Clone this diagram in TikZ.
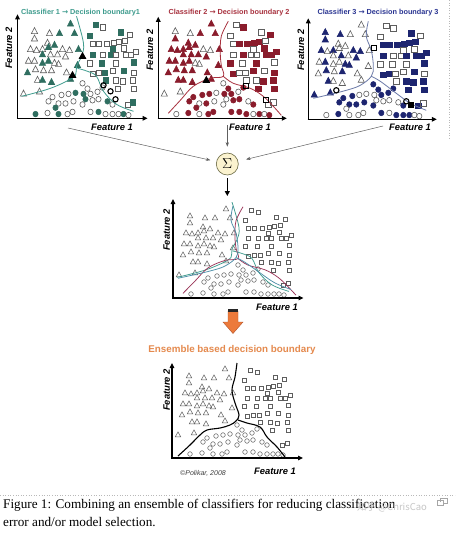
\documentclass[tikz,border=0pt]{standalone}
\usepackage{fontspec}
\setmainfont{Liberation Serif}
\newfontfamily\hv{Liberation Sans}
\newfontfamily\dv{DejaVu Sans}
\newfontfamily\cjk{Noto Sans CJK SC}
\usetikzlibrary{arrows.meta}
\definecolor{tealA}{HTML}{3F9C8E}
\definecolor{tealF}{HTML}{2F6E60}
\definecolor{redA}{HTML}{A8323F}
\definecolor{redF}{HTML}{8A1C2C}
\definecolor{blueA}{HTML}{2A3592}
\definecolor{blueF}{HTML}{1D2570}
\definecolor{blueL}{HTML}{6C7AA8}
\definecolor{mixB}{HTML}{4F8FA8}
\definecolor{mixR}{HTML}{9A3458}
\definecolor{ptgray}{HTML}{5E5E5E}
\definecolor{ensO}{HTML}{E58A4E}
\definecolor{sigF}{HTML}{FBF3CF}
\definecolor{sigD}{HTML}{6B6A45}
\definecolor{arrO}{HTML}{EC7A3B}
\definecolor{arrD}{HTML}{B4532A}
\def\TriList{53/89,17/82,32/80,42/80,57/80,17/75,30/71,13/65,19/64,25/65,31/67,37/69,45/65,52/64,61/65,25/60,33/60,40/60,48/58,11/54,17/54,25/52,31/54,37/52,41/51,60/50,10/43,18/46,26/45,34/45,49/43,20/36,25/36,34/34,6/23,22/25,53/37}
\def\SqList{78/88,85/86,103/81,112/79,72/78,75/70,81/70,89/70,96/71,101/72,107/73,95/65,106/66,75/60,85/60,93/60,98/60,108/60,113/60,118/63,75/42,81/43,87/43,95/45,106/45,116/43,88/36,98/36,105/35,115/36,100/28,116/28,110/13,115/15,72/52,116/53,98/52,84/52}
\def\CircList{65/33,70/28,66/23,73/23,80/25,85/29,68/18,75/17,81/18,90/16,95/13,65/13,73/6,81/6,88/4,95/4,101/4,106/4,111/3,51/23,58/24,35/20,41/14,31/16,38/10,48/14,56/16,30/5,41/4,50/4,55/6,18/4,44/22}
\def\ms{1}
\newcommand\mtri[3]{\path[#3] (#1,#2) ++(0,3.1*\ms) -- ++(-2.7*\ms,-4.9*\ms) -- ++(5.4*\ms,0) -- cycle;}
\newcommand\msq[3]{\path[#3] (#1,#2) ++(-2.2*\ms,-2.2*\ms) rectangle ++(4.4*\ms,4.4*\ms);}
\newcommand\mcirc[3]{\path[#3] (#1,#2) circle[radius=2.3*\ms];}
% #1 fill colour, #2 seed, #3 threshold (0..11)
\newcommand\pts[3]{%
  \foreach \x/\y [count=\i] in \TriList {%
    \pgfmathtruncatemacro\f{mod(\i*\i*3+\i*7+#2,11)}%
    \ifnum\f<#3\relax\mtri{\x}{\y}{draw=#1,fill=#1}\else\mtri{\x}{\y}{draw=ptgray}\fi}%
  \foreach \x/\y [count=\i] in \SqList {%
    \pgfmathtruncatemacro\f{mod(\i*\i*5+\i*3+#2+4,11)}%
    \ifnum\f<#3\relax\msq{\x}{\y}{draw=#1,fill=#1}\else\msq{\x}{\y}{draw=ptgray}\fi}%
  \foreach \x/\y [count=\i] in \CircList {%
    \pgfmathtruncatemacro\f{mod(\i*\i*7+\i*2+#2+7,11)}%
    \ifnum\f<#3\relax\mcirc{\x}{\y}{draw=#1,fill=#1}\else\mcirc{\x}{\y}{draw=ptgray}\fi}%
}
\newcommand\bndA{plot[smooth,tension=0.6] coordinates {(59,102) (66,75) (64,62) (59,52) (58,43) (49,37) (33,30) (16,25) (4,22)}
  plot[smooth,tension=0.6] coordinates {(60,50) (70,47) (79,42) (86,27) (99,14) (116,7)}}
\newcommand\bndB{plot[smooth,tension=0.6] coordinates {(70,97) (63,82) (62,65) (63,53) (65,42) (52,40) (35,32) (22,18) (10,5)}
  plot[smooth,tension=0.6] coordinates {(65,42) (75,35) (92,30) (105,22) (115,12) (123,3)}}
\newcommand\bndC{plot[smooth,tension=0.6] coordinates {(60,98) (58,83) (63,69) (65,53) (63,43) (52,34) (38,29) (18,24) (5,21)}
  plot[smooth,tension=0.6] coordinates {(63,43) (72,38) (88,26) (102,16) (118,9)}}
\begin{document}
\begin{tikzpicture}[x=1pt,y=-1pt,
  axis/.style={line width=1.1pt,-{Triangle[length=5pt,width=4.6pt]}},
  feat/.style={font=\hv\bfseries\itshape\fontsize{9.4}{10}\selectfont},
  ttl/.style={font=\hv\bfseries\fontsize{7.3}{8}\selectfont},
  conn/.style={draw=gray!75!black,line width=0.5pt,-{Stealth[length=4.5pt,width=3.2pt]}},
  bold/.style={line width=1.1pt,draw=black}]
\fill[white] (0,0) rectangle (455,535);
\useasboundingbox (0,0) rectangle (455,535);
\draw[gray!55,dotted,line width=0.6pt] (449,0) -- (449,140);
% ---------- panel 1
\node[ttl,text=tealA] (t1) at (80.5,12.5) {Classifier 1 {\dv →} Decision boundary1};
\begin{scope}[shift={(17.5,118.3)},yscale=-1,line width=0.6pt]
  \def\ms{1.15}
  \begin{scope}[yscale=1.06]\pts{tealF}{1}{5}\end{scope}
  \draw[tealA,line width=0.8pt] \bndA;
  \mtri{65}{62}{draw=black,fill=black,line width=0.9pt}
  \mtri{55}{43}{draw=black,fill=black,line width=0.9pt}
  \mcirc{86}{33}{bold}\mcirc{93}{27}{bold}\mcirc{98}{19}{bold}
  \draw[axis] (0,-0.6) -- (0,104);
  \draw[axis] (-0.6,0) -- (130,0);
\end{scope}
\node[feat,rotate=90] (f21) at (9,48) {Feature 2};
\node[feat] (f11) at (112,127.5) {Feature 1};
% ---------- panel 2
\node[ttl,text=redA] (t2) at (229,12.5) {Classifier 2 {\dv →} Decision boundary 2};
\begin{scope}[shift={(158.3,118.3)},yscale=-1,line width=0.6pt]
  \def\ms{1.15}
  \begin{scope}[yscale=1.06]\pts{redF}{5}{6}\end{scope}
  \draw[redA,line width=0.8pt] \bndB;
  \mtri{48}{38}{draw=black,fill=black,line width=0.9pt}
  \msq{88}{32}{bold}\msq{108}{18}{bold}
  \draw[axis] (0,-0.6) -- (0,101.5);
  \draw[axis] (-0.6,0) -- (128.5,0);
\end{scope}
\node[feat,rotate=90] (f22) at (150,50) {Feature 2};
\node[feat] (f12) at (250,127) {Feature 1};
% ---------- panel 3
\node[ttl,text=blueA] (t3) at (378,12.5) {Classifier 3 {\dv →} Decision boundary 3};
\begin{scope}[shift={(308.3,119.3)},yscale=-1,line width=0.6pt]
  \def\ms{1.15}
  \begin{scope}[yscale=1.06]\pts{blueF}{9}{6}\end{scope}
  \draw[blueL,line width=0.8pt] \bndC;
  \msq{66}{71}{bold}\mcirc{28}{29}{bold}\mcirc{98}{18}{bold}
  \msq{103}{14}{bold,fill=black}
  \draw[axis] (0,-0.6) -- (0,101);
  \draw[axis] (-0.6,0) -- (128.5,0);
\end{scope}
\node[feat,rotate=90] (f23) at (301,50) {Feature 2};
\node[feat] (f13) at (410,127) {Feature 1};
% ---------- sigma
\node[circle,draw=sigD,fill=sigF,line width=0.6pt,minimum size=22pt,inner sep=0pt] (sig) at (227.3,164) {\fontsize{14}{14}\selectfont$\Sigma$};
\coordinate (c1) at (68,128);
\coordinate (c2) at (227.3,125);
\coordinate (c3) at (383,126);
\coordinate (cdn) at (227.3,196);
\draw[conn,shorten >=6pt] (c1) -- (sig);
\draw[conn,shorten >=6pt] (c2) -- (sig);
\draw[conn,shorten >=8pt] (c3) -- (sig);
\draw[line width=1.2pt,-{Triangle[length=5pt,width=5pt]},shorten <=3pt] (sig) -- (cdn);
% ---------- middle panel
\begin{scope}[shift={(173,298)},yscale=-1,line width=0.5pt]
  \pts{black}{0}{0}
  \begin{scope}[yscale=0.94]
    \draw[tealA,line width=0.75pt] \bndA;
    \draw[mixR,line width=0.75pt] \bndB;
    \draw[mixB,line width=0.75pt] \bndC;
  \end{scope}
  \draw[axis] (0,-0.6) -- (0,99);
  \draw[axis] (-0.6,0) -- (130.5,0);
\end{scope}
\node[feat,rotate=90] (f24) at (166.7,230) {Feature 2};
\node[feat] (f14) at (277,307) {Feature 1};
% ---------- orange arrow
\fill[arrO,draw=arrD,line width=0.4pt] (228,311) -- (238,311) -- (238,322) -- (243,322) -- (233,333.5) -- (223,322) -- (228,322) -- cycle;
\fill[black!85] (227.8,309.3) rectangle (238.2,312.2);
\node[font=\hv\bfseries\fontsize{9.8}{11}\selectfont,text=ensO] (ens) at (232,350) {Ensemble based decision boundary};
% ---------- bottom panel
\begin{scope}[shift={(172,458)},yscale=-1,line width=0.5pt]
  \pts{black}{0}{0}
  \draw[line width=1.1pt] plot[smooth,tension=0.6] coordinates {(65,95) (63,81) (60,68) (63,55) (67,43) (64,37) (58,33) (48,30) (35,28) (28,23) (18,13) (6,2)};
  \draw[line width=1.1pt] plot[smooth,tension=0.6] coordinates {(66,38) (75,35) (88,31) (95,21) (105,11) (113,1)};
  \draw[axis] (0,-0.6) -- (0,95);
  \draw[axis] (-0.6,0) -- (131,0);
\end{scope}
\node[feat,rotate=90] (f25) at (166.7,390) {Feature 2};
\node[feat] (f15) at (275,471.5) {Feature 1};
\node[font=\hv\itshape\fontsize{7}{8}\selectfont,text=black!75] (cp) at (203,473) {©Polikar, 2008};
% ---------- caption
\draw[gray!55,dotted,line width=0.6pt] (0,495) -- (455,495);
\node[anchor=west,font=\fontsize{13.2}{14}\selectfont,inner sep=0pt] (cap1) at (3,505.5) {Figure 1: Combining an ensemble of classifiers for reducing classification};
\node[anchor=west,font=\fontsize{13.2}{14}\selectfont,inner sep=0pt] (cap2) at (3,522) {error and/or model selection.};
\node[font=\cjk\fontsize{9.5}{10}\selectfont,text=gray!45] (wm) at (392,507) {知乎 @ChrisCao};
\draw[gray!70,line width=0.6pt] (437,500) rectangle (443,505) (440,502) -- (440,498) -- (447,498) -- (447,503) -- (443,503);
\end{tikzpicture}
\end{document}
